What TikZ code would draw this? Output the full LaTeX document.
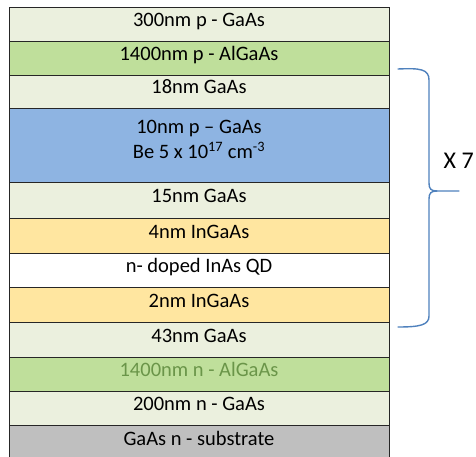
\documentclass[tikz,border=0pt]{standalone}
\usepackage{fontspec}
\setmainfont{Carlito}
\usepackage{xcolor}
\usetikzlibrary{positioning,calc}

\definecolor{gaaslight}{HTML}{EBF0DE}
\definecolor{algaasgreen}{HTML}{BFDF9B}
\definecolor{dopedblue}{HTML}{8EB4E2}
\definecolor{ingaasyellow}{HTML}{FFE6A0}
\definecolor{substrategray}{HTML}{BFBFBF}
\definecolor{dimgreen}{HTML}{6A9549}
\definecolor{braceblue}{HTML}{4F81BD}

\tikzset{
    layerline/.style={draw=black!85, line width=0.8pt},
    layertext/.style={anchor=base, font=\fontsize{20.5}{25}\selectfont, inner sep=0pt, align=center},
    bracepath/.style={draw=braceblue, line width=1.4pt, line cap=round}
}

\begin{document}
\begin{tikzpicture}[x=1pt, y=-1pt]
    \useasboundingbox (0,0) rectangle (476,457);
    % Layer stack, top to bottom
    \foreach \top/\bot/\col in {7/41/gaaslight, 41/75/algaasgreen, 75/108/gaaslight,
        108/182/dopedblue, 182/218/gaaslight, 218/253/ingaasyellow, 253/287/white,
        287/322/ingaasyellow, 322/357/gaaslight, 357/391/algaasgreen, 391/425/gaaslight}
        \draw[layerline, fill=\col] (9,\top) rectangle (389,\bot);
    \draw[layerline, fill=substrategray] (9,462) -- (9,425) -- (389,425) -- (389,462); % Substrate
    % Layer labels
    \node[layertext] (cap) at (199,26.5) {300nm p - GaAs};
    \node[layertext] (cladtop) at (199,60.5) {1400nm p - AlGaAs};
    \node[layertext] (sp18) at (199,94) {18nm GaAs};
    \node[layertext] (delta) at (199,159) {10nm p -- GaAs\\Be 5 x 10\textsuperscript{17} cm\textsuperscript{-3}};
    \node[layertext] (sp15) at (199,202.5) {15nm GaAs};
    \node[layertext] (well4) at (199,238) {4nm InGaAs};
    \node[layertext] (dots) at (199,272.5) {n- doped InAs QD};
    \node[layertext] (well2) at (199,307) {2nm InGaAs};
    \node[layertext] (sp43) at (199,342) {43nm GaAs};
    \node[layertext, text=dimgreen] (cladbot) at (199,376.5) {1400nm n - AlGaAs};
    \node[layertext] (buffer) at (199,410.5) {200nm n - GaAs};
    \node[layertext] (substrate) at (199,445) {GaAs n - substrate};
    % Repeat brace
    \coordinate (brtop) at (398,69);
    \coordinate (brbot) at (398,327);
    \coordinate (brtip) at (459,191);
    \draw[bracepath] (brtop) .. controls (420,68) and (429,69) .. (429,80) -- (429,183)
        .. controls (429,189) and (431,191) .. (437,191) -- (brtip);
    \draw[bracepath] (437,191) .. controls (431,191) and (429,193) .. (429,199) -- (429,316)
        .. controls (429,325) and (420,327) .. (brbot);
    \node[anchor=base west, inner sep=0pt, font=\fontsize{24}{28}\selectfont] (repeat) at (443.5,168) {X 7};
\end{tikzpicture}
\end{document}
